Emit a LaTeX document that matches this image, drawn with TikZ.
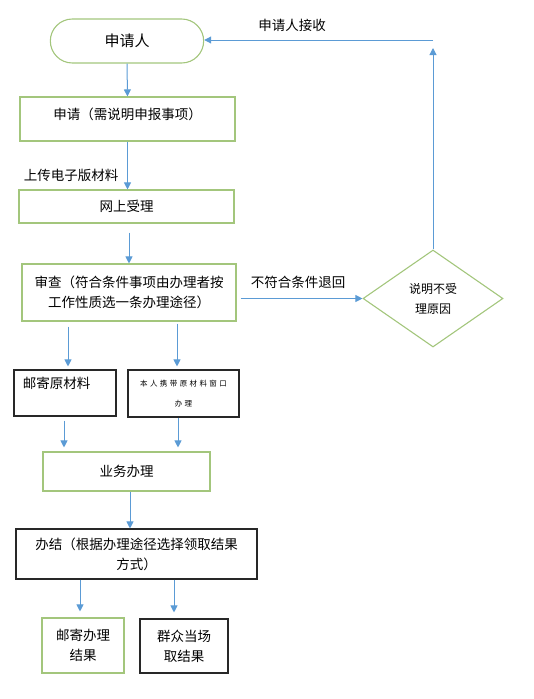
\documentclass[tikz,border=0pt]{standalone}
\usepackage{fontspec}
\newfontfamily\cjk{Noto Sans CJK SC}
\usepackage{tikz}
\usetikzlibrary{arrows.meta}
\usetikzlibrary{calc}
\usetikzlibrary{positioning}
\usetikzlibrary{shapes.geometric,shapes.misc}
\definecolor{boxgreen}{RGB}{163,198,124}
\definecolor{arrblue}{RGB}{91,155,213}
\definecolor{boxblack}{RGB}{40,40,40}

\begin{document}
\begin{tikzpicture}[x=1pt,y=-1pt,
		txt/.style={font=\cjk\fontsize{13.5}{20}\selectfont, inner sep=0pt},
		greenbox/.style={draw=boxgreen, line width=1.1pt, font=\cjk\fontsize{13.5}{20}\selectfont, align=center},
		blackbox/.style={draw=boxblack, line width=1.1pt, font=\cjk\fontsize{13.5}{20}\selectfont, align=center},
		arr/.style={draw=arrblue, line width=1pt, -{Triangle[length=7pt,width=7pt]}}]
		\useasboundingbox (0,0) rectangle (534,699);
		
		% main column
		\node[greenbox, rounded rectangle, minimum width=160pt, minimum height=44pt,
			font=\cjk\fontsize{15}{20}\selectfont] (start) at (127,41) {申请人};
		\node[greenbox, minimum width=215pt, minimum height=44pt, text depth=11pt] (apply) at (127.5,119) {申请（需说明申报事项）};
		\node[greenbox, minimum width=215pt, minimum height=33pt] (online) at (126.5,206.5) {网上受理};
		\node[greenbox, minimum width=214pt, minimum height=57pt] (review) at (129,292.5)
			{审查（符合条件事项由办理者按\\工作性质选一条办理途径）};
		
		% refusal on the right
		\node[draw=boxgreen, line width=1.1pt, diamond, aspect=1.44, minimum width=140pt, minimum height=97pt,
			inner sep=0pt, align=center, font=\cjk\fontsize{12}{20}\selectfont] (refuse) at (433,298.5) {说明不受\\理原因};
		\coordinate (corner) at (433,40);
		
		% two ways to hand in the originals
		\node[blackbox, minimum width=102pt, minimum height=46pt, inner xsep=9pt, text width=84pt,
			align=left] (mailorig) at (65,393) {邮寄原材料\\ \mbox{}};
		\node[blackbox, minimum width=111pt, minimum height=47pt,
			font=\cjk\fontsize{7.5}{20}\addfontfeature{LetterSpace=32}\selectfont] (inperson) at (183.5,393.5)
			{本人携带原材料窗口\\办理};
		
		\node[greenbox, minimum width=167pt, minimum height=39pt] (handle) at (126.5,471.5) {业务办理};
		\node[blackbox, minimum width=241pt, minimum height=50pt] (finish) at (136.5,554)
			{办结（根据办理途径选择领取结果\\方式）};
		
		% results
		\node[greenbox, minimum width=82pt, minimum height=55pt] (mailres) at (83,645.5) {邮寄办理\\结果};
		\node[blackbox, minimum width=88pt, minimum height=54pt] (spot) at (184,646) {群众当场\\取结果};
		
		% connectors
		\draw[arr] (start.south) -- (apply.north);
		\draw[arr] (apply.south) -- (apply.south |- online.north);
		\node[txt] (upload) at (71,175) {上传电子版材料};
		\draw[arr, shorten <=9pt] ([xshift=2.5pt]online.south) -- ([xshift=2.5pt]online.south |- review.north);
		
		\draw[arr, shorten <=4pt] (review.east |- refuse.west) -- (refuse.west);
		\node[txt] (back) at (298,282) {不符合条件退回};
		\draw[arr, shorten >=8pt] (refuse.north) -- (corner);
		\draw[arr] (corner) -- (start.east |- corner);
		\node[txt] (receive) at (292,25) {申请人接收};
		
		\draw[arr, shorten <=5pt, shorten >=3pt] ([xshift=3pt]mailorig.north |- review.south) -- ([xshift=3pt]mailorig.north);
		\draw[arr, shorten <=2pt, shorten >=3pt] ([xshift=-6.5pt]inperson.north |- review.south) -- ([xshift=-6.5pt]inperson.north);
		\draw[arr, shorten <=4pt, shorten >=4pt] ([xshift=-1pt]mailorig.south) -- ([xshift=-1pt]mailorig.south |- handle.north);
		\draw[arr, shorten >=4pt] ([xshift=-5.5pt]inperson.south) -- ([xshift=-5.5pt]inperson.south |- handle.north);
		
		\draw[arr] ([xshift=3.5pt]handle.south) -- ([xshift=3.5pt]handle.south |- finish.north);
		\draw[arr, shorten >=6pt] ([xshift=-3pt]mailres.north |- finish.south) -- ([xshift=-3pt]mailres.north);
		\draw[arr, shorten >=6pt] ([xshift=-10pt]spot.north |- finish.south) -- ([xshift=-10pt]spot.north);
	\end{tikzpicture}
\end{document}
